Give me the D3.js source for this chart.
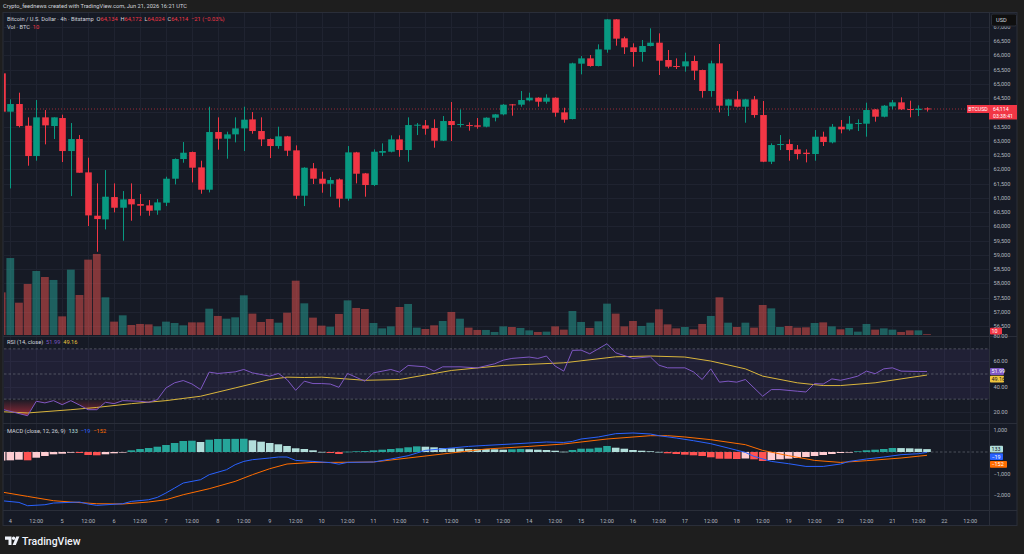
<!DOCTYPE html>
<html>
<head>
<meta charset="utf-8">
<script src="https://cdn.jsdelivr.net/npm/d3@7"></script>
<style>
html, body { margin: 0; padding: 0; background: #1e1e1e; overflow: hidden; }
svg text { font-family: Roboto, "Liberation Sans", sans-serif; white-space: pre; }
</style>
</head>
<body>
<svg id="chart" width="1024" height="554"></svg>
<script>
// 4h candles, Jun 3 20:00 -> Jun 21 16:00 (index 0 is the cut-off bar at the left edge)
const opens = [65365,64020,64289,63528,62463,63821,63516,63797,62639,63060,
  61890,60370,60240,61024,60650,60954,60779,60732,60556,60825,
  61668,62358,62604,62065,61282,63306,63072,63224,63434,63750,
  63341,63060,62814,63154,62663,61071,62030,61668,61492,61644,
  60966,62592,61855,61446,62580,62615,63048,62674,63528,63540,
  63446,63002,63692,63551,63551,63540,63493,63809,63926,64277,
  64265,64417,64511,64370,64511,63996,63762,65704,65891,65622,
  66195,67260,66594,66278,66114,66324,66441,65833,65622,65610,
  65798,65482,64745,65716,64230,64452,64195,64452,63902,62264,
  62849,62885,62697,62580,62534,63142,62943,63493,63400,63587,
  63598,64101,63844,64206,64347,64113,64078,64134];
const highs = [65420,64452,64686,63821,64429,64078,63821,63914,63622,63200,
  62405,61504,61972,61504,61235,61504,61130,60919,60954,61738,
  62380,62955,62620,62300,64195,63821,63317,63821,64195,64008,
  63821,63080,63493,63170,62838,62070,62218,61913,61726,61680,
  62814,62610,61870,62697,62908,63189,63189,63821,63622,63727,
  63751,63867,64359,64101,63645,63797,63821,63940,64288,64290,
  64745,64686,64525,64628,64525,64160,65739,65973,66009,66383,
  67270,67270,66652,66418,66535,66944,66769,66184,65891,66090,
  65985,65495,65810,66395,64470,64745,64470,64569,64394,62908,
  63200,63048,62850,62697,63376,63318,63587,63727,63867,63751,
  64335,64115,64253,64429,64523,64406,64242,64172];
const lows = [63980,61328,63470,62124,62300,62873,63060,62253,61059,61878,
  60006,59105,59889,60486,59492,60194,60369,60369,60404,60708,
  61469,62229,61539,61141,61188,62686,62370,62943,62639,63247,
  62814,62393,62721,62463,60954,60708,61481,61176,61036,60662,
  60896,61504,61036,61410,62463,62592,62440,62264,63200,63212,
  62756,62990,62990,63470,63353,63423,63470,63680,63891,63879,
  64195,64382,64195,64300,63844,63633,63750,65330,65599,65610,
  66090,66336,66044,65599,65775,66310,65307,65541,65517,65424,
  65131,64511,64546,63996,63867,64172,63633,63809,62250,62182,
  62674,62299,62346,62241,62299,62815,62908,63259,63353,63341,
  63142,63669,63821,64101,64078,63821,63867,64024];
const closes = [64020,64289,63516,62463,63821,63540,63821,62639,63060,61878,
  60381,60252,61036,60650,60942,60767,60720,60545,60837,61668,
  62358,62580,62054,61282,63306,63072,63224,63434,63739,63341,
  63048,62814,63154,62651,61071,62054,61668,61492,61621,60966,
  62592,61843,61446,62615,62639,63048,62674,63551,63563,63423,
  63002,63692,63551,63587,63528,63493,63809,63926,64265,64253,
  64429,64511,64370,64511,63984,63739,65716,65891,65622,66207,
  67260,66582,66278,66114,66324,66441,65810,65599,65587,65786,
  65459,64745,65716,64230,64452,64195,64452,63902,62264,62849,
  62885,62674,62534,62534,63142,62955,63493,63400,63598,63622,
  64078,63844,64230,64347,64101,64078,64125,64114];
const volumes = [533,962,404,638,800,725,688,233,817,500,
  942,1013,471,167,246,125,138,133,108,167,
  150,121,158,158,329,238,204,221,496,267,
  163,200,154,279,679,396,217,117,104,263,
  433,338,325,150,83,108,350,388,92,75,
  121,175,288,204,92,63,63,38,108,100,
  88,58,38,42,108,67,300,163,88,171,
  392,267,108,175,113,154,321,133,83,100,
  71,138,238,471,154,100,154,92,375,333,
  100,113,92,96,150,158,108,71,88,42,
  138,67,83,67,38,58,58,10];

// RSI(14) and its MA, read at visible vertices [bar index, value]
const rsiPoints = [[0,22],[3,16.8],[4,28.3],[5,27],[6,28.8],[7,25.6],[8,28.8],[9,25.3],[10,21.6],[11,21.6],
  [12,27.5],[13,26.4],[14,28.8],[16,28.3],[17,27.5],[18,29.6],[19,38.9],[20,43],[21,44.8],[22,42.1],
  [23,37.6],[24,51.5],[25,50.4],[27,51.7],[28,53.6],[29,50.9],[31,48.3],[32,50.4],[33,45.6],[34,37],
  [35,44.3],[36,42.4],[37,42.4],[38,42],[39,39.4],[40,50.4],[42,44.3],[43,50.9],[45,53.6],[46,51.5],
  [47,56.8],[49,55.7],[50,52.3],[51,55.7],[53,55.7],[55,54.9],[57,58.1],[58,61],[59,62.4],[61,63.5],
  [62,62.4],[63,64.3],[64,56.3],[65,52.3],[66,68.8],[67,69],[68,66.1],[70,74.1],[71,66.9],[73,62.4],
  [75,63.7],[76,57],[77,54.9],[79,54.9],[80,51.7],[81,45.6],[82,54.1],[83,43.5],[84,44.3],[85,43.5],
  [86,45.6],[88,32.3],[89,37.6],[90,37.6],[92,36.3],[93,35.7],[94,42.4],[95,42],[96,46.1],[97,45],
  [98,46.5],[99,48.3],[100,52.3],[101,50.2],[102,54.1],[103,54.9],[104,52.3],[106,52],[107,51.99]];
const rsiMaPoints = [[0,20],[3,19],[8,21.6],[11,23.4],[15,26.4],[19,28.8],[23,32.3],[27,38.9],[31,45.6],
  [33,47.5],[35,47.2],[37,47.5],[38,47],[42,45],[46,45.6],[52,52.8],[58,56.8],[65,58.9],[71,63.7],
  [75,64.3],[79,63.5],[82,60.3],[86,54.1],[88,48.3],[92,43],[95,40.8],[97,40.8],[101,43],[104,46.1],[107,49.16]];

// MACD(12, 26, 9)
const macdPoints = [[0,-2245],[2,-2323],[3,-2476],[5,-2430],[6,-2352],[9,-2305],[10,-2397],[11,-2460],
  [14,-2383],[15,-2277],[17,-2200],[18,-2092],[19,-1890],[20,-1660],[21,-1430],[23,-1277],[24,-1046],
  [26,-816],[27,-585],[28,-433],[29,-355],[31,-277],[32,-231],[33,-231],[34,-387],[36,-433],[38,-490],
  [39,-560],[40,-480],[43,-461],[45,-323],[47,-170],[49,74],[52,184],[54,258],[56,304],[59,369],[61,415],
  [63,461],[65,440],[66,489],[67,599],[69,692],[71,844],[73,876],[75,830],[76,751],[78,645],[80,521],
  [82,383],[84,184],[86,-18],[87,-203],[89,-433],[91,-539],[93,-664],[95,-664],[97,-553],[98,-433],
  [100,-323],[102,-231],[104,-124],[106,-78],[107,-19]];
const signalPoints = [[0,-1844],[3,-2047],[6,-2245],[8,-2305],[11,-2383],[14,-2397],[17,-2305],[19,-2200],
  [21,-1968],[24,-1692],[27,-1355],[29,-1046],[31,-770],[33,-553],[36,-479],[38,-479],[43,-461],[47,-277],
  [52,-46],[56,138],[61,258],[65,369],[70,599],[75,751],[77,751],[79,692],[82,567],[86,337],[88,74],
  [91,-170],[94,-387],[97,-480],[100,-401],[104,-277],[107,-152]];
const histogram = [-395,-383,-355,-383,-263,-184,-106,-78,-32,-46,
  -138,-152,-106,-60,-14,78,138,184,244,323,
  415,507,520,461,567,600,602,605,610,539,
  475,415,355,277,171,138,78,5,-46,-92,
  14,32,46,78,106,138,171,217,260,244,
  217,184,171,152,138,138,135,124,106,124,
  138,124,106,92,60,14,92,152,155,198,
  277,198,152,92,60,32,5,-60,-92,-124,
  -152,-184,-244,-309,-312,-323,-300,-337,-415,-369,
  -337,-309,-277,-231,-184,-138,-92,-46,-14,32,
  78,106,138,184,180,170,152,133];

const xLabels = ["4","12:00","5","12:00","6","12:00","7","12:00","8","12:00","9","12:00","10","12:00",
  "11","12:00","12","12:00","13","12:00","14","12:00","15","12:00","16","12:00","17","12:00",
  "18","12:00","19","12:00","20","12:00","21","12:00","22","12:00"];
const priceTicks = [57000,57500,58000,58500,59000,59500,60000,60500,61000,61500,62000,62500,
  63000,63500,64000,64500,65000,65500,66000,66500,67000,56500];
const rsiTicks = [80, 60, 40, 20];
const macdTicks = [1000, -1000, -2000];

const UP = "#089981", DOWN = "#f23645";
const BG = "#161a25", GRID = "#1f2330", AXIS_TXT = "#b2b5be";
const RSI_MA = "#d9b53c";
const L = 4, R = 989;

var svg = d3.select("#chart");
var defs = svg.append("defs");

var x = d3.scaleLinear().domain([0, 107]).range([1.65, 927]);
var yPrice = d3.scaleLinear().domain([56500, 66500]).range([326, 41]);
var yVol = d3.scaleLinear().domain([0, 1000]).range([335, 255]);
var yRsi = d3.scaleLinear().domain([20, 80]).range([411.7, 336.3]);
var yMacd = d3.scaleLinear().domain([-2000, 1000]).range([495.4, 430.3]);

function clip(id, x0, y0, x1, y1) {
    defs.append("clipPath").attr("id", id).append("rect")
        .attr("x", x0).attr("y", y0).attr("width", x1 - x0).attr("height", y1 - y0);
    return "url(#" + id + ")";
}

// frame
svg.append("rect").attr("x", 3).attr("y", 12.5).attr("width", 1014).attr("height", 513)
    .attr("fill", BG).attr("stroke", "#2a2e39").attr("stroke-width", 1);

svg.append("text").attr("x", 3).attr("y", 8.3).attr("fill", "#d1d4dc").attr("font-size", 5.7)
    .text("Crypto_feednews created with TradingView.com, Jun 21, 2026 16:21 UTC");

// vertical grid
var grid = svg.append("g").attr("stroke", GRID).attr("stroke-width", 1);
xLabels.forEach(function (lab, k) {
    var gx = Math.round(x(1 + 3 * k)) + 0.5;
    grid.append("line").attr("x1", gx).attr("x2", gx).attr("y1", 13).attr("y2", 510);
});
// horizontal grid
priceTicks.forEach(function (p) {
    var gy = Math.round(yPrice(p)) + 0.5;
    if (gy > 13 && gy < 336) grid.append("line").attr("x1", L).attr("x2", R).attr("y1", gy).attr("y2", gy);
});
rsiTicks.forEach(function (v) {
    var gy = Math.round(yRsi(v)) + 0.5;
    if (gy > 338) grid.append("line").attr("x1", L).attr("x2", R).attr("y1", gy).attr("y2", gy);
});
macdTicks.forEach(function (v) {
    var gy = Math.round(yMacd(v)) + 0.5;
    grid.append("line").attr("x1", L).attr("x2", R).attr("y1", gy).attr("y2", gy);
});

// pane separators
[336.5, 423.5, 510.5].forEach(function (sy) {
    svg.append("line").attr("x1", 3).attr("x2", 1017).attr("y1", sy).attr("y2", sy)
        .attr("stroke", "#2a2e39").attr("stroke-width", 1);
});
svg.append("line").attr("x1", R + 0.5).attr("x2", R + 0.5).attr("y1", 13).attr("y2", 525)
    .attr("stroke", "#2a2e39");

// ---------- main pane ----------
var main = svg.append("g").attr("clip-path", clip("clipMain", L, 13, R, 336));
var idx = d3.range(opens.length);

main.selectAll("rect.vol").data(idx).enter().append("rect")
    .attr("class", "vol")
    .attr("x", function (i) { return x(i) - 3.9; })
    .attr("width", 7.8)
    .attr("y", function (i) { return yVol(volumes[i]); })
    .attr("height", function (i) { return 335 - yVol(volumes[i]); })
    .attr("fill", function (i) { return closes[i] >= opens[i] ? "rgba(38,166,154,0.5)" : "rgba(239,83,80,0.5)"; });

// last price line
main.append("line").attr("x1", L).attr("x2", R).attr("y1", yPrice(64114)).attr("y2", yPrice(64114))
    .attr("stroke", DOWN).attr("stroke-opacity", 0.6).attr("stroke-width", 1).attr("stroke-dasharray", "1,2");

main.selectAll("line.wick").data(idx).enter().append("line")
    .attr("class", "wick")
    .attr("x1", function (i) { return Math.round(x(i)) + 0.5; })
    .attr("x2", function (i) { return Math.round(x(i)) + 0.5; })
    .attr("y1", function (i) { return yPrice(highs[i]); })
    .attr("y2", function (i) { return yPrice(lows[i]); })
    .attr("stroke", function (i) { return closes[i] >= opens[i] ? UP : DOWN; });

main.selectAll("rect.body").data(idx).enter().append("rect")
    .attr("class", "body")
    .attr("x", function (i) { return Math.round(x(i)) + 0.5 - 3.3; })
    .attr("width", 6.6)
    .attr("y", function (i) { return yPrice(Math.max(opens[i], closes[i])); })
    .attr("height", function (i) { return Math.max(1, Math.abs(yPrice(opens[i]) - yPrice(closes[i]))); })
    .attr("fill", function (i) { return closes[i] >= opens[i] ? UP : DOWN; });

// header
var h1 = svg.append("text").attr("x", 7).attr("y", 20.5).attr("font-size", 5.7).attr("fill", "#d1d4dc");
h1.append("tspan").text("Bitcoin / U.S. Dollar · 4h · Bitstamp  ");
[["O", "64,134"], ["H", "64,172"], ["L", "64,024"], ["C", "64,114"]].forEach(function (p) {
    h1.append("tspan").text(p[0]);
    h1.append("tspan").attr("fill", DOWN).text(p[1] + "  ");
});
h1.append("tspan").attr("fill", DOWN).text("−21 (−0.03%)");
var h2 = svg.append("text").attr("x", 7).attr("y", 28.5).attr("font-size", 5.7).attr("fill", "#d1d4dc");
h2.append("tspan").text("Vol · BTC  ");
h2.append("tspan").attr("fill", DOWN).text("10");

// price axis (labels hidden under the last-price tag are skipped, as on the original)
var py = yPrice(64114);
var pAxis = svg.append("g").attr("font-size", 5.6).attr("fill", AXIS_TXT);
priceTicks.forEach(function (p) {
    var ly = yPrice(p);
    if (ly > py - 7 && ly < py + 13) return;
    pAxis.append("text").attr("x", 993.5).attr("y", ly + 2).text(d3.format(",")(p));
});
svg.append("rect").attr("x", 991.5).attr("y", 14).attr("width", 25).attr("height", 12).attr("rx", 1.5)
    .attr("fill", "#0f0f0f").attr("stroke", "#2a2e39");
svg.append("text").attr("x", 996).attr("y", 22).attr("font-size", 5.6).attr("fill", "#d1d4dc").text("USD");

svg.append("rect").attr("x", 967).attr("y", py - 4).attr("width", 22).attr("height", 8).attr("fill", DOWN);
svg.append("text").attr("x", 978).attr("y", py + 2).attr("text-anchor", "middle").attr("font-size", 5.2)
    .attr("fill", "#fff").text("BTCUSD");
svg.append("rect").attr("x", 989).attr("y", py - 4).attr("width", 28).attr("height", 14.5).attr("fill", DOWN);
svg.append("text").attr("x", 993).attr("y", py + 1.8).attr("font-size", 5.2).attr("fill", "#fff").text("64,114");
svg.append("text").attr("x", 993).attr("y", py + 8.9).attr("font-size", 5.2).attr("fill", "#fff").text("03:38:41");

// ---------- RSI pane ----------
var rsiG = svg.append("g").attr("clip-path", clip("clipRsi", L, 337, R, 423));
rsiG.append("rect").attr("x", L).attr("width", R - L).attr("y", yRsi(70)).attr("height", yRsi(30) - yRsi(70))
    .attr("fill", "rgba(126,87,194,0.1)");
[70, 50, 30].forEach(function (v) {
    rsiG.append("line").attr("x1", L).attr("x2", R).attr("y1", yRsi(v)).attr("y2", yRsi(v))
        .attr("stroke", "#787b86").attr("stroke-opacity", 0.55).attr("stroke-dasharray", "2.5,2");
});

var gOs = defs.append("linearGradient").attr("id", "gradOs").attr("gradientUnits", "userSpaceOnUse")
    .attr("x1", 0).attr("x2", 0).attr("y1", yRsi(30)).attr("y2", yRsi(15));
gOs.append("stop").attr("offset", 0).attr("stop-color", "#f23645").attr("stop-opacity", 0);
gOs.append("stop").attr("offset", 1).attr("stop-color", "#f23645").attr("stop-opacity", 0.65);
var gOb = defs.append("linearGradient").attr("id", "gradOb").attr("gradientUnits", "userSpaceOnUse")
    .attr("x1", 0).attr("x2", 0).attr("y1", yRsi(70)).attr("y2", yRsi(85));
gOb.append("stop").attr("offset", 0).attr("stop-color", "#089981").attr("stop-opacity", 0);
gOb.append("stop").attr("offset", 1).attr("stop-color", "#089981").attr("stop-opacity", 0.65);

rsiG.append("path").datum(rsiPoints)
    .attr("clip-path", clip("clipOs", L, yRsi(30), R, 423))
    .attr("fill", "url(#gradOs)")
    .attr("d", d3.area().x(function (d) { return x(d[0]); }).y0(yRsi(30)).y1(function (d) { return yRsi(d[1]); }));
rsiG.append("path").datum(rsiPoints)
    .attr("clip-path", clip("clipOb", L, 337, R, yRsi(70)))
    .attr("fill", "url(#gradOb)")
    .attr("d", d3.area().x(function (d) { return x(d[0]); }).y0(yRsi(70)).y1(function (d) { return yRsi(d[1]); }));

var rsiLine = d3.line().x(function (d) { return x(d[0]); }).y(function (d) { return yRsi(d[1]); });
rsiG.append("path").datum(rsiMaPoints).attr("d", rsiLine).attr("fill", "none")
    .attr("stroke", RSI_MA).attr("stroke-width", 1);
rsiG.append("path").datum(rsiPoints).attr("d", rsiLine).attr("fill", "none")
    .attr("stroke", "#7e57c2").attr("stroke-width", 1);

var rt = svg.append("text").attr("x", 7).attr("y", 344).attr("font-size", 5.7).attr("fill", "#d1d4dc");
rt.append("tspan").text("RSI (14, close)  ");
rt.append("tspan").attr("fill", "#7e57c2").text("51.99  ");
rt.append("tspan").attr("fill", "#e9c43f").text("49.16");

var rAxis = svg.append("g").attr("font-size", 5.6).attr("fill", AXIS_TXT);
rsiTicks.forEach(function (v) {
    rAxis.append("text").attr("x", 993.5).attr("y", yRsi(v) + 2).text(d3.format(".2f")(v));
});

// ---------- MACD pane ----------
var macdG = svg.append("g").attr("clip-path", clip("clipMacd", L, 424, R, 510));
macdG.append("line").attr("x1", L).attr("x2", R).attr("y1", yMacd(0)).attr("y2", yMacd(0))
    .attr("stroke", "#787b86").attr("stroke-opacity", 0.55).attr("stroke-dasharray", "2.5,2");

macdG.selectAll("rect.hist").data(idx).enter().append("rect")
    .attr("class", "hist")
    .attr("x", function (i) { return x(i) - 3.8; })
    .attr("width", 7.6)
    .attr("y", function (i) { return Math.min(yMacd(0), yMacd(histogram[i])); })
    .attr("height", function (i) { return Math.max(0.6, Math.abs(yMacd(histogram[i]) - yMacd(0))); })
    .attr("fill", function (i) {
        var h = histogram[i], prev = i > 0 ? histogram[i - 1] : h;
        if (h >= 0) return h > prev ? "#26a69a" : "#b2dfdb";
        return h < prev ? "#ff5252" : "#ffcdd2";
    });

var mLine = d3.line().x(function (d) { return x(d[0]); }).y(function (d) { return yMacd(d[1]); });
macdG.append("path").datum(signalPoints).attr("d", mLine).attr("fill", "none")
    .attr("stroke", "#ff6d00").attr("stroke-width", 1);
macdG.append("path").datum(macdPoints).attr("d", mLine).attr("fill", "none")
    .attr("stroke", "#2962ff").attr("stroke-width", 1);

var mt = svg.append("text").attr("x", 7).attr("y", 433).attr("font-size", 5.7).attr("fill", "#d1d4dc");
mt.append("tspan").text("MACD (close, 12, 26, 9)  ");
mt.append("tspan").attr("fill", "#b2dfdb").text("133  ");
mt.append("tspan").attr("fill", "#2962ff").text("−19  ");
mt.append("tspan").attr("fill", "#ff6d00").text("−152");

var mAxis = svg.append("g").attr("font-size", 5.6).attr("fill", AXIS_TXT);
macdTicks.forEach(function (v) {
    mAxis.append("text").attr("x", 993.5).attr("y", yMacd(v) + 2).text(d3.format(",")(v).replace("-", "−"));
});

// right-side value tags, stacked so they do not overlap
function tag(yc, w, fill, txtColor, label) {
    svg.append("rect").attr("x", 990).attr("y", yc - 3.4).attr("width", w).attr("height", 6.8)
        .attr("rx", 0.8).attr("fill", fill);
    svg.append("text").attr("x", 991.5).attr("y", yc + 2).attr("font-size", 5.4)
        .attr("fill", txtColor).text(label);
}
tag(yVol(10) - 3, 12, DOWN, "#fff", "10");
var rA = yRsi(51.99), rB = Math.max(yRsi(49.16), rA + 7.6);
tag(rA, 14, "#7e57c2", "#fff", "51.99");
tag(rB, 14, "#f0c53c", "#131722", "49.16");
var mA = yMacd(133), mB = Math.max(yMacd(-19), mA + 7.6), mC = Math.max(yMacd(-152), mB + 7.6);
tag(mA, 13, "#b2dfdb", "#131722", "133");
tag(mB, 13, "#2962ff", "#fff", "−19");
tag(mC, 17, "#ff6d00", "#fff", "−152");

// ---------- time axis ----------
var tAxis = svg.append("g").attr("font-size", 5.6).attr("fill", AXIS_TXT).attr("text-anchor", "middle");
xLabels.forEach(function (lab, k) {
    tAxis.append("text").attr("x", x(1 + 3 * k)).attr("y", 522.7).text(lab);
});

// ---------- footer logo ----------
var logo = svg.append("g").attr("fill", "#f0f3fa");
logo.append("path").attr("d", "M5,536.5 h6.5 v8.5 h-3 v-5.3 h-3.5 z");
logo.append("circle").attr("cx", 13.6).attr("cy", 538.2).attr("r", 1.7);
logo.append("path").attr("d", "M12.6,545 l3.6,-8.5 h3.2 l-3.6,8.5 z");
svg.append("text").attr("x", 22).attr("y", 544.5).attr("font-size", 10.5).attr("font-weight", 500)
    .attr("fill", "#f0f3fa").text("TradingView");
</script>
</body>
</html>
